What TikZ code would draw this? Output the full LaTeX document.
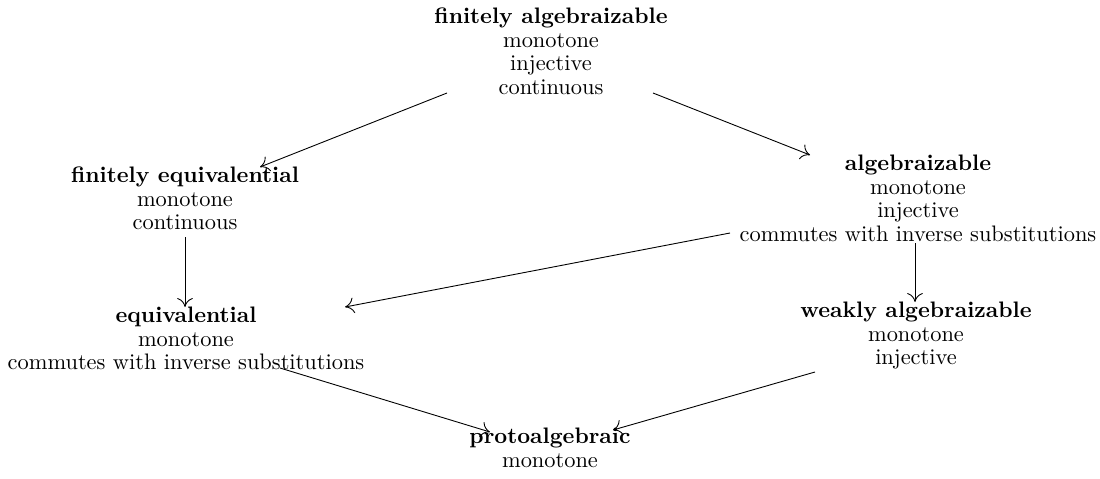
\documentclass[tikz,border=0pt]{standalone}
\usetikzlibrary{arrows.meta}
\begin{document}
\begin{tikzpicture}[x=0.4464pt,y=-0.4464pt,
  box/.style={anchor=north,align=center,inner sep=0pt,font=\fontsize{10}{10.5}\selectfont},
  arr/.style={line width=0.4pt,-{To[length=4pt,width=7pt]}}]
\useasboundingbox (0,0) rectangle (1100,478);
\node[box] (top) at (551,7.5) {\textbf{finitely algebraizable}\\monotone\\injective\\continuous};
\node[box] (feq) at (185,166.5) {\textbf{finitely equivalential}\\monotone\\continuous};
\node[box] (alg) at (918,154.5) {\textbf{algebraizable}\\monotone\\injective\\commutes with inverse substitutions};
\node[box] (eq) at (186,306.5) {\textbf{equivalential}\\monotone\\commutes with inverse substitutions};
\node[box] (weak) at (916,301.5) {\textbf{weakly algebraizable}\\monotone\\injective};
\node[box] (proto) at (550,427.5) {\textbf{protoalgebraic}\\monotone};
\draw[arr] ([shift={(-104,85.5)}]top.north) -- ([shift={(75,0.5)}]feq.north);
\draw[arr] ([shift={(102,85.5)}]top.north) -- ([shift={(-108,0.5)}]alg.north);
\draw[arr] ([shift={(0,70.5)}]feq.north) -- ([shift={(-1,0.5)}]eq.north);
\draw[arr] ([shift={(-3,88.5)}]alg.north) -- ([shift={(-1,0.5)}]weak.north);
\draw[arr] ([shift={(-188,78.5)}]alg.north) -- ([shift={(159,0.5)}]eq.north);
\draw[arr] ([shift={(94,61.5)}]eq.north) -- ([shift={(-60,4.5)}]proto.north);
\draw[arr] ([shift={(-101,70.5)}]weak.north) -- ([shift={(63,2.5)}]proto.north);
\end{tikzpicture}
\end{document}
